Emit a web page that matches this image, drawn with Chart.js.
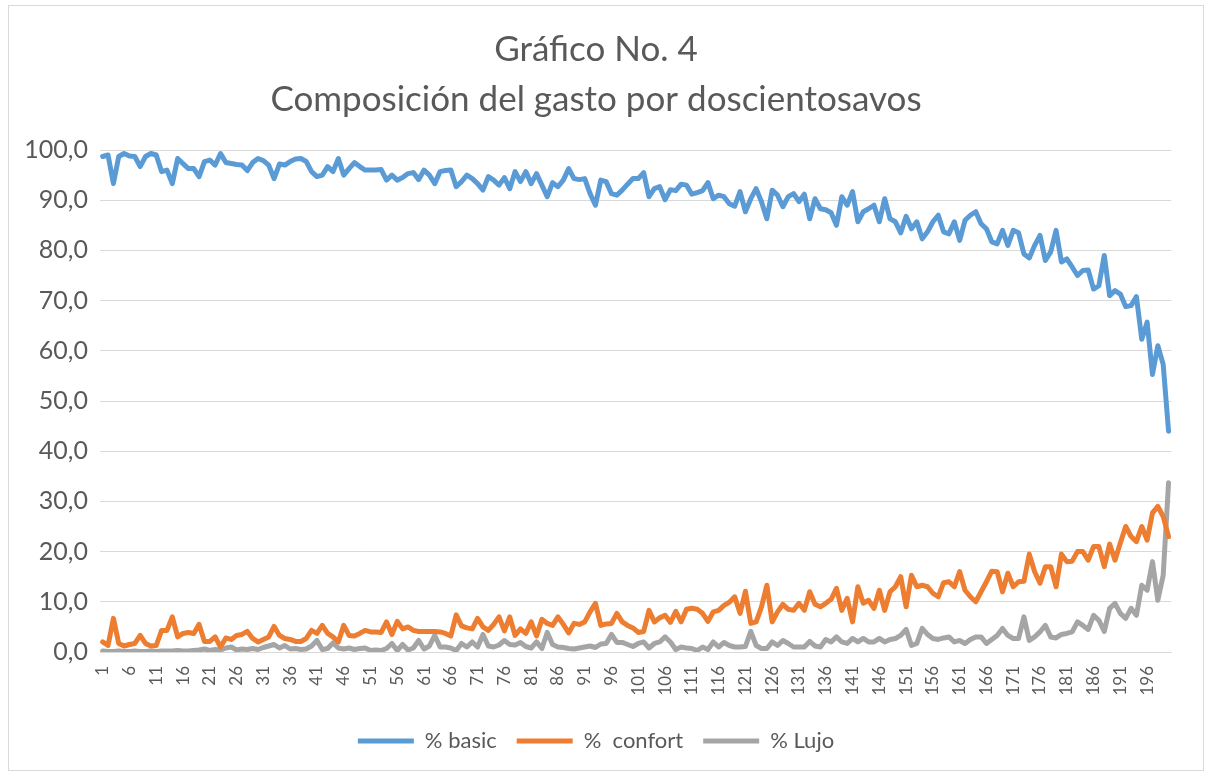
<!DOCTYPE html>
<html>
<head>
<meta charset="utf-8">
<script src="https://cdn.jsdelivr.net/npm/chart.js@4"></script>
<style>
  html, body { margin: 0; padding: 0; background: #fff; }
  .frame { position: absolute; left: 8px; top: 5px; width: 1194px; height: 764px; border: 1px solid #d9d9d9; }
  canvas { display: block; }
</style>
</head>
<body>
<div class="frame"><canvas id="lineChart" width="1194" height="764"></canvas></div>
<script>
// categorias: doscientosavos 1..200
const categories = Array.from({ length: 200 }, (_, i) => String(i + 1));

const basicPct = [
  98.7, 99.0, 93.3, 98.7, 99.3, 98.8, 98.7, 96.7, 98.7, 99.3,
  99.0, 95.7, 96.0, 93.3, 98.3, 97.3, 96.3, 96.3, 94.7, 97.7,
  98.0, 97.0, 99.3, 97.5, 97.3, 97.1, 97.0, 95.9, 97.5, 98.3,
  97.9, 97.0, 94.3, 97.2, 97.0, 97.7, 98.2, 98.3, 97.7, 95.7,
  94.7, 95.0, 96.7, 95.7, 98.3, 95.0, 96.3, 97.5, 96.7, 96.0,
  96.0, 96.0, 96.1, 94.0, 95.0, 94.0, 94.5, 95.3, 95.5, 94.1,
  96.0, 95.0, 93.3, 95.7, 95.9, 96.0, 92.7, 93.7, 95.0, 94.3,
  93.3, 92.0, 94.7, 94.0, 93.0, 94.5, 92.3, 95.7, 93.7, 95.7,
  93.3, 95.3, 93.0, 90.7, 93.5, 92.7, 94.0, 96.3, 94.3, 94.1,
  94.3, 91.3, 89.0, 94.0, 93.7, 91.3, 91.0, 92.0, 93.2, 94.3,
  94.3, 95.5, 90.7, 92.3, 92.7, 90.1, 92.1, 91.9, 93.2, 93.0,
  91.2, 91.5, 91.9, 93.5, 90.3, 91.0, 90.7, 89.3, 88.8, 91.7,
  87.7, 90.3, 92.3, 89.7, 86.3, 92.0, 91.0, 88.7, 90.7, 91.3,
  89.7, 91.2, 86.3, 90.3, 88.3, 88.1, 87.5, 85.0, 90.7, 89.0,
  91.7, 85.7, 87.7, 88.3, 89.0, 85.7, 90.3, 86.3, 85.7, 83.5,
  86.8, 84.3, 85.7, 82.3, 83.7, 85.7, 87.0, 83.7, 83.3, 85.7,
  82.0, 86.0, 87.0, 87.7, 85.3, 84.3, 81.7, 81.3, 84.0, 81.0,
  84.0, 83.5, 79.3, 78.5, 81.0, 83.0, 78.0, 79.7, 84.0, 77.7,
  78.3, 76.7, 75.0, 76.0, 76.1, 72.3, 73.0, 79.0, 71.0, 72.0,
  71.3, 68.8, 69.0, 70.8, 62.3, 65.7, 55.3, 61.0, 57.3, 44.0
];

const confortPct = [
  2.0, 1.3, 6.7, 1.7, 1.2, 1.5, 1.7, 3.3, 1.7, 1.2,
  1.3, 4.3, 4.3, 7.0, 3.0, 3.7, 3.9, 3.7, 5.5, 2.1,
  2.1, 3.0, 1.0, 2.8, 2.5, 3.3, 3.5, 4.1, 2.7, 2.0,
  2.5, 3.0, 5.1, 3.3, 2.7, 2.5, 2.1, 2.1, 2.7, 4.3,
  3.7, 5.3, 3.7, 3.0, 2.0, 5.3, 3.3, 3.2, 3.7, 4.3,
  4.0, 4.0, 3.9, 6.0, 3.5, 6.1, 4.6, 5.0, 4.3, 4.1,
  4.1, 4.1, 4.1, 4.0, 3.7, 3.2, 7.4, 5.2, 4.8, 4.6,
  6.7, 5.0, 4.3, 5.5, 7.0, 4.2, 7.0, 3.3, 4.6, 3.7,
  6.0, 3.2, 6.5, 5.7, 5.3, 7.0, 5.5, 3.8, 5.7, 5.5,
  6.0, 8.0, 9.7, 5.3, 5.6, 5.7, 7.7, 6.0, 5.3, 4.8,
  3.9, 4.1, 8.3, 6.0, 6.8, 7.3, 5.9, 8.1, 6.0, 8.5,
  8.7, 8.5, 7.7, 6.1, 8.0, 8.3, 9.3, 9.9, 11.0, 7.7,
  12.1, 5.7, 6.0, 9.0, 13.3, 6.0, 8.0, 9.5, 8.5, 8.3,
  9.7, 8.3, 12.0, 9.5, 9.0, 9.7, 10.5, 12.7, 8.3, 10.7,
  6.0, 13.0, 9.7, 10.3, 8.7, 12.3, 8.3, 12.0, 13.0, 15.0,
  9.0, 15.3, 13.0, 13.3, 13.0, 11.7, 11.0, 13.8, 14.0, 13.0,
  16.0, 12.3, 11.0, 10.0, 12.0, 14.0, 16.1, 16.0, 12.0, 15.7,
  13.0, 14.0, 14.1, 19.5, 16.0, 13.7, 17.0, 17.0, 13.0, 19.5,
  18.0, 18.1, 20.0, 20.0, 18.3, 21.0, 21.0, 17.0, 21.5, 18.3,
  21.7, 25.0, 23.0, 22.0, 25.0, 22.3, 27.7, 29.0, 27.0, 23.0
];

const lujoPct = [
  0.2, 0.1, 0.1, 0.2, 0.1, 0.1, 0.2, 0.1, 0.1, 0.2,
  0.1, 0.2, 0.2, 0.2, 0.3, 0.2, 0.2, 0.3, 0.4, 0.6,
  0.3, 0.5, 0.4, 0.8, 1.0, 0.4, 0.6, 0.5, 0.7, 0.5,
  0.9, 1.2, 1.5, 0.8, 1.3, 0.6, 0.7, 0.5, 0.6, 1.2,
  2.3, 0.5, 0.7, 1.8, 0.8, 0.6, 0.8, 0.5, 0.7, 0.8,
  0.3, 0.4, 0.3, 0.7, 1.7, 0.3, 1.5, 0.4, 0.8, 2.3,
  0.6, 1.2, 3.3, 1.0, 1.0, 0.8, 0.3, 1.7, 1.0, 2.0,
  1.0, 3.5, 1.2, 1.0, 1.4, 2.3, 1.5, 1.4, 1.9, 1.1,
  0.8, 2.0, 0.7, 3.9, 1.5, 1.0, 0.9, 0.7, 0.6, 0.8,
  1.0, 1.2, 0.9, 1.6, 1.7, 3.5, 1.9, 1.9, 1.5, 1.1,
  1.7, 2.0, 0.8, 1.7, 2.0, 3.0, 2.0, 0.5, 1.0, 0.8,
  0.7, 0.3, 1.0, 0.5, 2.0, 1.0, 1.9, 1.3, 1.0, 1.0,
  1.1, 4.1, 1.3, 0.7, 0.7, 2.0, 1.3, 2.3, 1.7, 1.0,
  1.0, 1.0, 2.1, 1.2, 1.0, 2.5, 2.0, 3.0, 2.0, 1.7,
  2.7, 2.0, 2.7, 2.0, 2.0, 2.7, 2.0, 2.5, 2.7, 3.3,
  4.5, 1.3, 1.7, 4.7, 3.5, 2.7, 2.5, 2.8, 3.0, 2.0,
  2.3, 1.7, 2.5, 3.0, 3.0, 1.7, 2.5, 3.3, 4.7, 3.3,
  2.7, 2.7, 7.0, 2.3, 3.0, 4.0, 5.3, 3.0, 2.8, 3.5,
  3.7, 4.0, 6.0, 5.3, 4.5, 7.3, 6.3, 4.1, 8.7, 9.7,
  7.7, 6.7, 8.7, 7.3, 13.3, 12.3, 18.0, 10.3, 15.3, 33.7
];

const seriesNames = ['% basic', '%  confort', '% Lujo'];
const titleLines = ['Gráfico No. 4', 'Composición del gasto por doscientosavos'];

Chart.defaults.font.family = 'Lato, "Open Sans", sans-serif';

const lineCtx = document.getElementById('lineChart').getContext('2d');
new Chart(lineCtx, {
  type: 'line',
  data: {
    labels: categories,
    datasets: [{
      label: seriesNames[0],
      data: basicPct,
      borderColor: '#5b9bd5',
      backgroundColor: '#5b9bd5',
      borderWidth: 5
    }, {
      label: seriesNames[1],
      data: confortPct,
      borderColor: '#ed7d31',
      backgroundColor: '#ed7d31',
      borderWidth: 5
    }, {
      label: seriesNames[2],
      data: lujoPct,
      borderColor: '#a5a5a5',
      backgroundColor: '#a5a5a5',
      borderWidth: 5
    }]
  },
  options: {
    responsive: false,
    animation: false,
    elements: {
      line: { tension: 0, borderJoinStyle: 'round', borderCapStyle: 'round' },
      point: { radius: 0, hoverRadius: 0 }
    },
    layout: { padding: { left: 0, right: 20, top: 0, bottom: 8 } },
    plugins: {
      tooltip: { enabled: false },
      title: {
        display: true,
        text: titleLines,
        color: '#595959',
        font: { size: 35, weight: 'normal', lineHeight: 50 / 35 },
        padding: { top: 19, bottom: 25 }
      },
      legend: {
        position: 'bottom',
        labels: {
          usePointStyle: true,
          pointStyle: 'line',
          pointStyleWidth: 56,
          color: '#595959',
          font: { size: 22 },
          padding: 20
        }
      }
    },
    scales: {
      x: {
        offset: true,
        grid: { display: false, drawTicks: false },
        border: { color: '#d9d9d9', width: 1 },
        ticks: {
          autoSkip: false,
          maxRotation: 90,
          minRotation: 90,
          color: '#595959',
          font: { size: 17 },
          padding: 14,
          callback: (value, index) => (index % 5 === 0 ? categories[index] : '')
        },
        afterFit: (scale) => { scale.height = 58; }
      },
      y: {
        min: 0,
        max: 100,
        grid: { color: '#d9d9d9', drawTicks: false },
        border: { display: false },
        ticks: {
          stepSize: 10,
          color: '#595959',
          font: { size: 25 },
          padding: 12,
          callback: (value) => value.toFixed(1).replace('.', ',')
        },
        afterFit: (scale) => { scale.width = 91; }
      }
    }
  }
});
</script>
</body>
</html>
